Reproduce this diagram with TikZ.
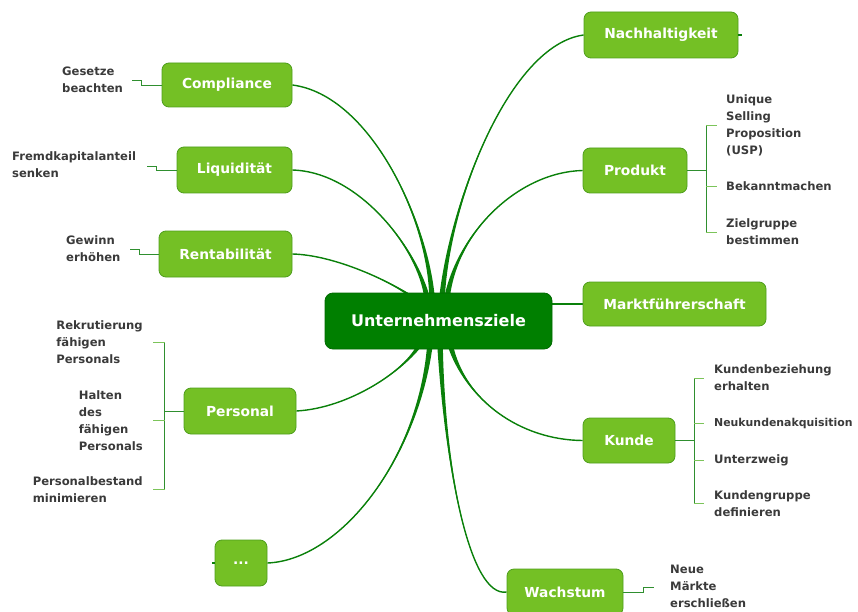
\documentclass[tikz,border=0pt]{standalone}
\usepackage{fontspec}
\setmainfont{DejaVu Sans}
\usetikzlibrary{calc,backgrounds}
\definecolor{brfill}{HTML}{74C025}
\definecolor{brdraw}{HTML}{4E9E1C}
\definecolor{ctfill}{HTML}{007F00}
\definecolor{ctdraw}{HTML}{006A00}
\definecolor{conn}{HTML}{0A800A}
\definecolor{leafline}{HTML}{2F8F2F}
\definecolor{tickline}{HTML}{7CC45A}
\definecolor{leaftext}{HTML}{3A3A3A}
\tikzset{
  branch/.style={draw=brdraw, line width=0.8pt, fill=brfill, rounded corners=7pt, text=white,
    font=\fontsize{13.8}{16}\selectfont\bfseries, minimum height=46pt, inner sep=0pt},
  coreBox/.style={draw=ctdraw, line width=0.8pt, fill=ctfill, rounded corners=8pt, text=white,
    font=\fontsize{16}{18}\selectfont\bfseries, inner sep=0pt},
  leaf/.style={text=leaftext, font=\fontsize{11.6}{17}\selectfont\bfseries, align=left, inner sep=1pt},
  lline/.style={draw=leafline, line width=0.9pt},
  tickln/.style={draw=tickline, line width=0.9pt},
  connline/.style={draw=conn, line width=1.4pt},
}
\newcommand\branchcurve[4]{%
  \fill[conn] ($(#1)+(-2.8,0)$) .. controls #2 and #3 .. (#4) .. controls #3 and #2 .. ($(#1)+(2.8,0)$) -- cycle;
  \draw[connline] (#1) .. controls #2 and #3 .. (#4);}
\begin{document}
\begin{tikzpicture}[x=1pt,y=-1pt]
\useasboundingbox (0,0) rectangle (858,612);
% central and branch nodes
\node[coreBox, minimum width=227pt, minimum height=56pt] (c) at (438.5,321) {Unternehmensziele};
\node[branch, minimum width=154pt] (nach) at (661,35) {Nachhaltigkeit};
\node[branch, minimum width=130pt, minimum height=44pt] (comp) at (227,85) {Compliance};
\node[branch, minimum width=115pt] (liq) at (234.5,170) {Liquidität};
\node[branch, minimum width=133pt] (rent) at (225.5,254) {Rentabilität};
\node[branch, minimum width=112pt] (pers) at (240,411) {Personal};
\node[branch, minimum width=52pt] (dots) at (241,563) {...};
\node[branch, minimum width=104pt, minimum height=45pt] (prod) at (635,170.5) {Produkt};
\node[branch, minimum width=183pt, minimum height=44pt] (markt) at (674.5,304) {Marktführerschaft};
\node[branch, minimum width=92pt, minimum height=45pt] (kunde) at (629,440.5) {Kunde};
\node[branch, minimum width=116pt] (wachs) at (565,592) {Wachstum};
% leaf texts
\node[leaf, anchor=west] (g1) at (61,80) {Gesetze\\beachten};
\node[leaf, anchor=west] (g2) at (11,164.5) {Fremdkapitalanteil\\senken};
\node[leaf, anchor=west] (g3) at (65,248.5) {Gewinn\\erhöhen};
\node[leaf, anchor=west] (w1) at (669,586) {Neue\\Märkte\\erschließen};
\node[leaf, anchor=west] (p1) at (725,125) {Unique\\Selling\\Proposition\\(USP)};
\node[leaf, anchor=west] (p2) at (725,186) {Bekanntmachen};
\node[leaf, anchor=west] (p3) at (725,232) {Zielgruppe\\bestimmen};
\node[leaf, anchor=west] (k1) at (713,378) {Kundenbeziehung\\erhalten};
\node[leaf, anchor=west, font=\fontsize{10.9}{17}\selectfont\bfseries] (k2) at (713,423) {Neukundenakquisition};
\node[leaf, anchor=west] (k3) at (713,460) {Unterzweig};
\node[leaf, anchor=west] (k4) at (713,503.5) {Kundengruppe\\definieren};
\node[leaf, anchor=east] (r1) at (144,342) {Rekrutierung\\fähigen\\Personals};
\node[leaf, anchor=east] (r2) at (144,420.5) {Halten\\des\\fähigen\\Personals};
\node[leaf, anchor=east] (r3) at (144,489.5) {Personalbestand\\minimieren};
% main connectors
\begin{scope}[on background layer]
\coordinate (sComp) at ($(c.north)+(-6.5,5)$);
\coordinate (sLiq)  at ($(c.north)+(-11.5,5)$);
\coordinate (sRent) at ($(c.north)+(-25.5,5)$);
\coordinate (sNach) at ($(c.north)+(3.5,5)$);
\coordinate (sProd) at ($(c.north)+(8.5,5)$);
\coordinate (sKun)  at ($(c.south)+(11.5,-5)$);
\coordinate (sWach) at ($(c.south)+(1.5,-5)$);
\coordinate (sPers) at ($(c.south)+(-18.5,-5)$);
\coordinate (sDots) at ($(c.south)+(-8.5,-5)$);
\branchcurve{sComp}{(428,220)}{(370,95)}{comp.east}
\branchcurve{sLiq}{(418,250)}{(360,172)}{liq.east}
\branchcurve{sRent}{(392,282)}{(335,255)}{rent.east}
\branchcurve{sNach}{(450,200)}{(510,45)}{nach.west}
\branchcurve{sProd}{(458,230)}{(520,172)}{prod.west}
\branchcurve{sKun}{(465,400)}{(520,440)}{kunde.west}
\branchcurve{sWach}{(445,470)}{(470,598)}{wachs.west}
\branchcurve{sPers}{(405,370)}{(350,408)}{pers.east}
\branchcurve{sDots}{(418,460)}{(340,560)}{dots.east}
\draw[conn, line width=1.6pt] (c.east |- markt.west) -- (markt.west);
\end{scope}
% stubs
\draw[connline] (nach.east) -- ++(4,0);
\draw[connline] (dots.west) -- ++(-3,0);
% step connectors to leaves
\draw[lline] (comp.west) -- ++(-20,0) -- ++(0,-5) -- ++(-10,0);
\draw[lline] (liq.west) -- ++(-20,0) -- ++(0,-4) -- ++(-10,0);
\draw[lline] (rent.west) -- ++(-19,0) -- ++(0,-5) -- ++(-10,0);
\draw[lline] (wachs.east) -- ++(20,0) -- ++(0,-5) -- ++(11,0);
% bracket: Produkt
\coordinate (pj) at ($(prod.east)+(19,0)$);
\draw[lline] (prod.east) -- (pj);
\draw[lline] (pj |- p1.west) -- (pj |- p3.west);
\foreach \n in {p1,p2,p3} \draw[tickln] (pj |- \n.west) -- ++(11,0);
% bracket: Kunde
\coordinate (kj) at ($(kunde.east)+(19,0)$);
\draw[lline] (kunde.east) -- (kj);
\draw[lline] (kj |- k1.west) -- (kj |- k4.west);
\foreach \n in {k1,k2,k3,k4} \draw[tickln] (kj |- \n.west) -- ++(10,0);
% bracket: Personal
\coordinate (rj) at ($(pers.west)+(-19,0)$);
\draw[lline] (pers.west) -- (rj);
\draw[lline] (rj |- r1.east) -- (rj |- r3.east);
\foreach \n in {r1,r2,r3} \draw[tickln] (rj |- \n.east) -- ++(-12,0);
\end{tikzpicture}
\end{document}
